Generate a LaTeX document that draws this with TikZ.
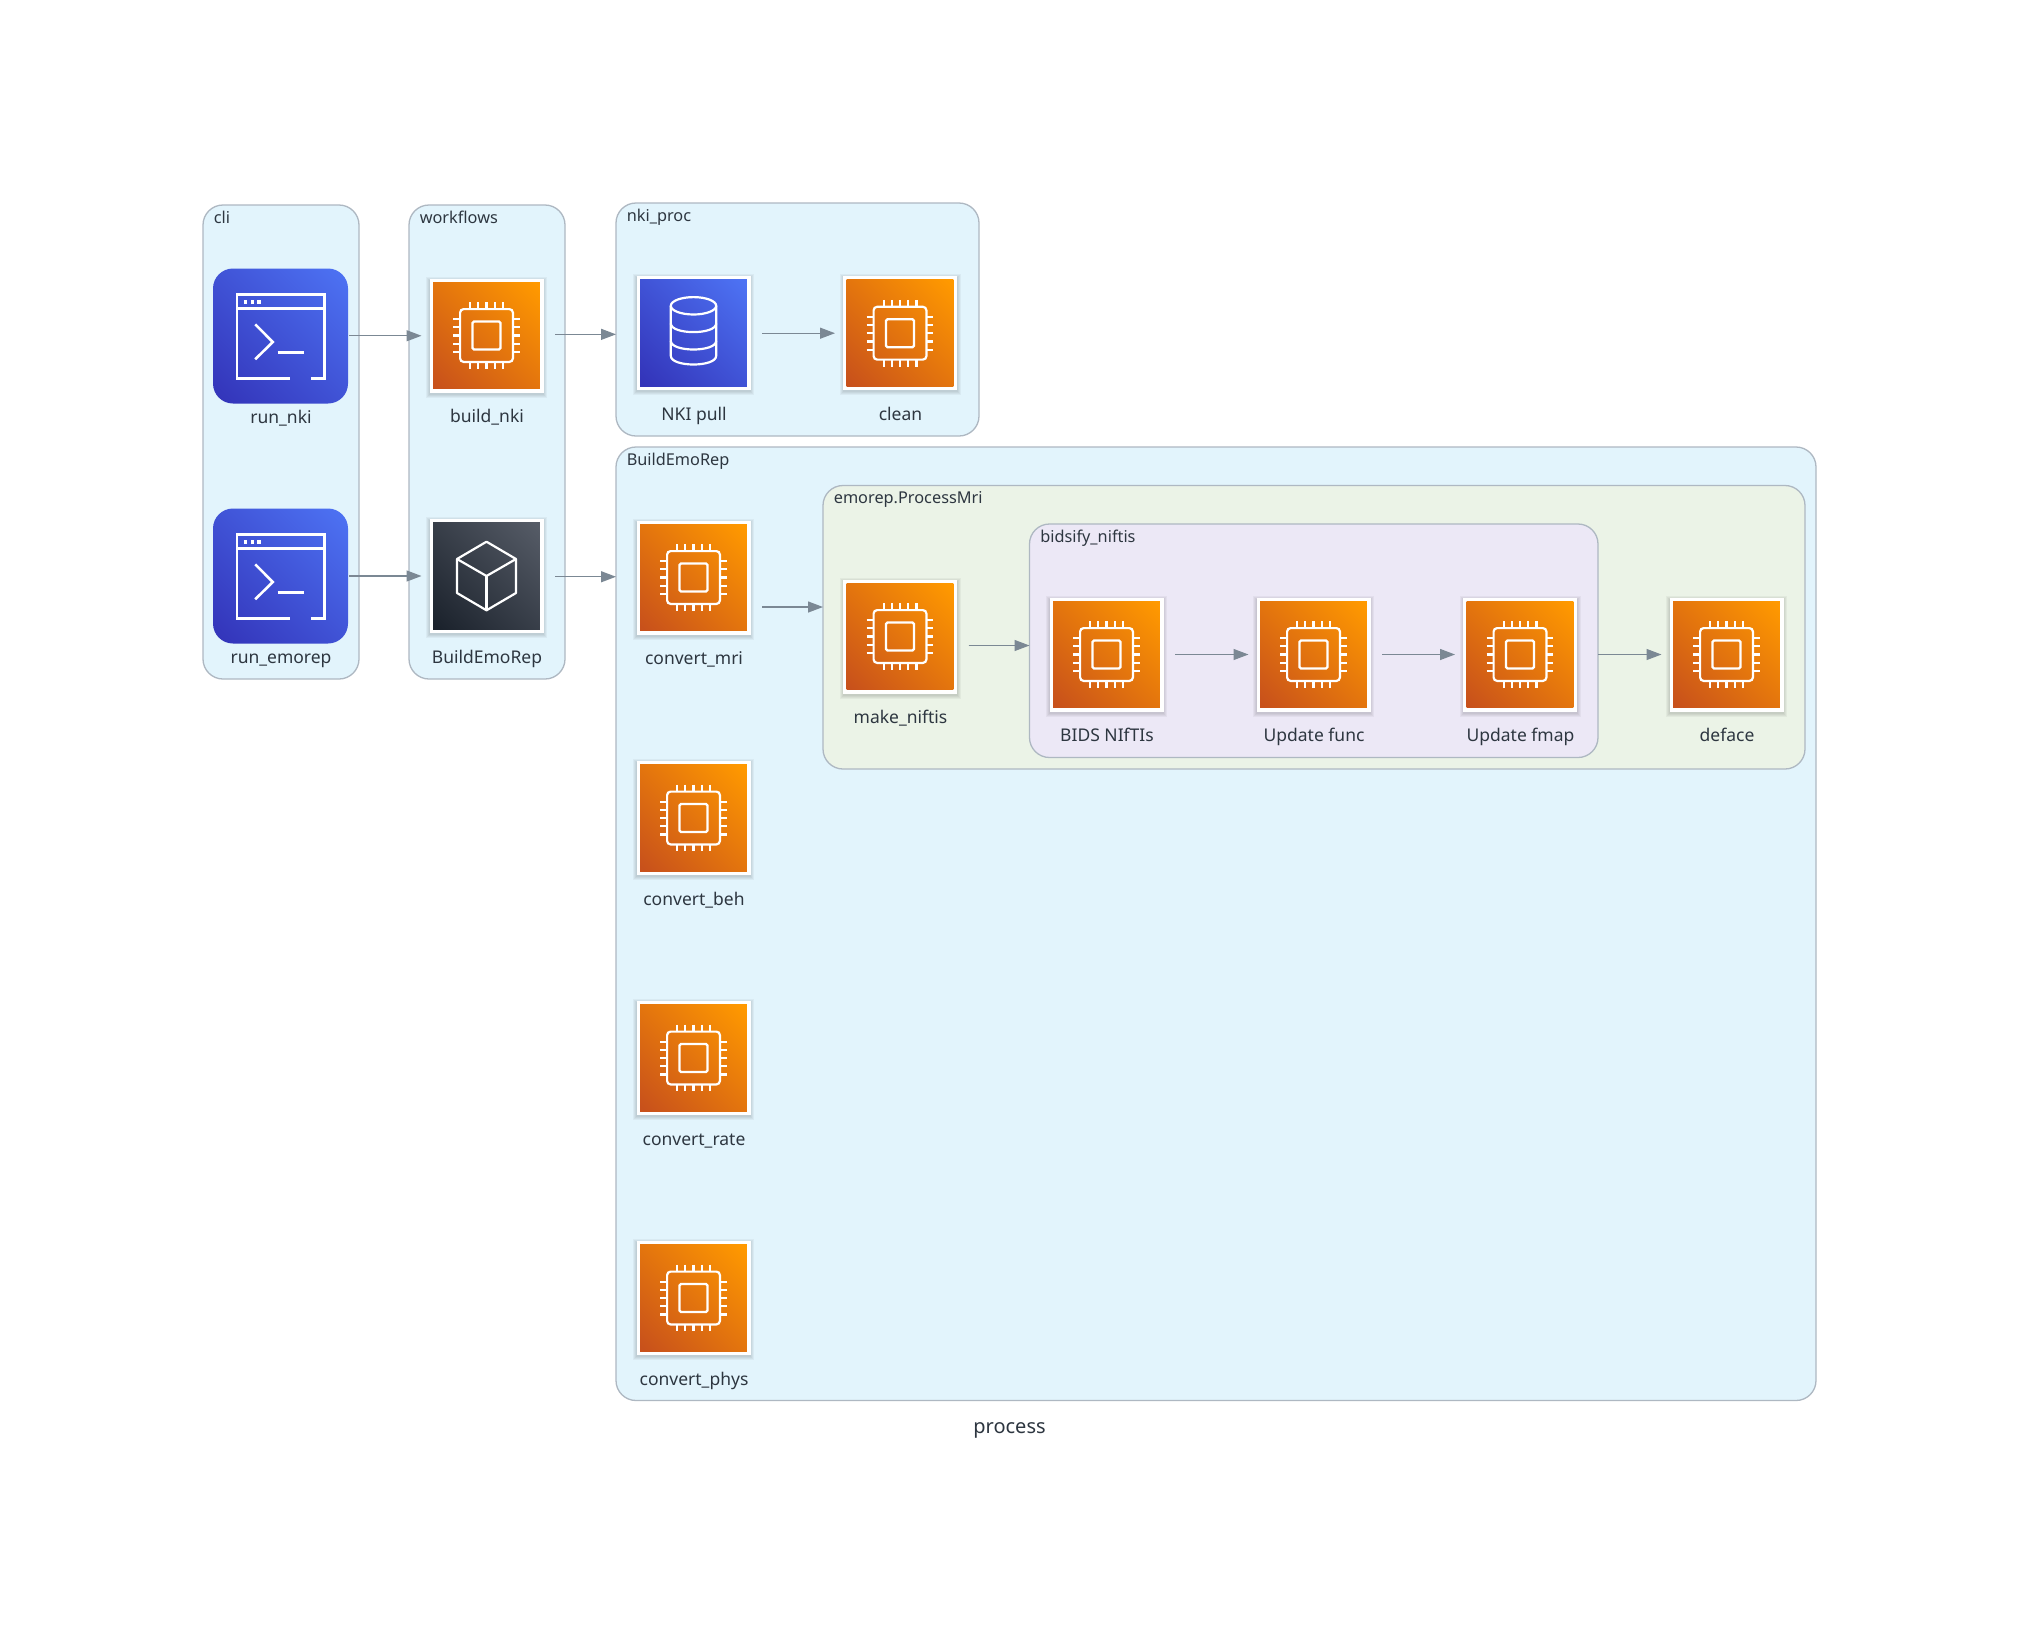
\documentclass[tikz,border=0pt]{standalone}
\usepackage{fontspec}
\setmainfont{Noto Sans}
\usetikzlibrary{arrows.meta,calc,fit}
\definecolor{clusterline}{HTML}{AEB8C2}
\definecolor{clusterblue}{HTML}{E2F4FC}
\definecolor{clustergreen}{HTML}{EBF3E7}
\definecolor{clusterviolet}{HTML}{ECE8F6}
\definecolor{flowgray}{HTML}{7B8894}
\definecolor{textdark}{HTML}{2D3640}
\definecolor{orangetop}{HTML}{FF9900}
\definecolor{orangelow}{HTML}{C8511B}
\definecolor{bluetop}{HTML}{4D72F3}
\definecolor{bluelow}{HTML}{3334B9}
\definecolor{graytop}{HTML}{555B66}
\definecolor{graylow}{HTML}{1B222C}
\newcommand{\tilefill}[2]{
	\begin{scope}
		\clip (-53.4,-53.4) rectangle (53.4,53.4);
		\shade[top color=#1, bottom color=#2, shading angle=-45] (-72,-72) rectangle (72,72);
	\end{scope}
}
\tikzset{
	cluster/.style={draw=clusterline, line width=1.3pt, rounded corners=20pt, inner sep=0pt, outer sep=0pt},
	clustertitle/.style={anchor=base west, inner sep=0pt, text=textdark, font=\fontsize{16.3}{19}\selectfont},
	iconspot/.style={minimum size=130pt, inner sep=0pt, outer sep=0pt},
	caption/.style={anchor=base, inner sep=0pt, text=textdark, font=\fontsize{17.5}{20}\selectfont},
	flow/.style={-{Triangle[length=15pt,width=11pt]}, draw=flowgray, fill=flowgray, line width=1.3pt, shorten <=3.5pt},
	glyph/.style={draw=white, line width=2.2pt},
	% white card with soft shadow
	card/.pic={
		\foreach \r in {3.5,2.5,1.5,0.5} {
			\fill[black, opacity=0.04] (-57-\r,-57-\r+1.5) rectangle (57+\r,57+\r+1.5);
		}
		\fill[white] (-57,-57) rectangle (57,57);
	},
	cpuicon/.pic={
		\pic {card};
		\tilefill{orangetop}{orangelow}
		\draw[glyph, rounded corners=3.5pt] (-26.4,-26.4) rectangle (26.4,26.4);
		\draw[glyph, rounded corners=1.5pt] (-14,-14) rectangle (14,14);
		\foreach \p in {-16.4,-8.2,0,8.2,16.4} {
			\draw[glyph] (\p,-33.4) -- (\p,-26.4);
			\draw[glyph] (\p,26.4) -- (\p,33.4);
			\draw[glyph] (-33.4,\p) -- (-26.4,\p);
			\draw[glyph] (26.4,\p) -- (33.4,\p);
		}
	},
	dbicon/.pic={
		\pic {card};
		\tilefill{bluetop}{bluelow}
		\draw[glyph] (0,-27.4) ellipse [x radius=22.7, y radius=8.7];
		\draw[glyph] (-22.7,-27.4) -- (-22.7,22.6) .. controls (-22.7,34.2) and (22.7,34.2) .. (22.7,22.6) -- (22.7,-27.4);
		\draw[glyph] (-22.7,-9.8) .. controls (-22.7,1.8) and (22.7,1.8) .. (22.7,-9.8);
		\draw[glyph] (-22.7,7.6) .. controls (-22.7,19.2) and (22.7,19.2) .. (22.7,7.6);
	},
	cubeicon/.pic={
		\pic {card};
		\tilefill{graytop}{graylow}
		\draw[glyph, line join=round] (0,-34.3) -- (29.5,-17) -- (29.5,17) -- (0,34.3) -- (-29.5,17) -- (-29.5,-17) -- cycle;
		\draw[glyph, line join=round] (-29.5,-17) -- (0,0) -- (29.5,-17);
		\draw[glyph] (0,0) -- (0,34.3);
	},
	termicon/.pic={
		\begin{scope}
			\clip[rounded corners=20pt] (-67.5,-67.5) rectangle (67.5,67.5);
			\shade[top color=bluetop, bottom color=bluelow, shading angle=-45] (-91,-91) rectangle (91,91);
		\end{scope}
		\draw[glyph, line width=2.6pt] (9.3,42.7) -- (-43.7,42.7) -- (-43.7,-41.7) -- (44,-41.7) -- (44,42.7) -- (30.7,42.7);
		\draw[glyph, line width=2.6pt] (-43.7,-27.3) -- (44,-27.3);
		\draw[glyph, line width=2.6pt] (-25.3,-11.7) -- (-7.7,6) -- (-25.3,23.3);
		\draw[glyph, line width=2.6pt] (-3,16.7) -- (23.7,16.7);
		\foreach \p in {-35,-28.2,-21.4} {
			\fill[white] (\p-1.8,-35.8) rectangle (\p+1.8,-32.2);
		}
	}
}
\newcommand{\iconat}[5]{
	\node[iconspot] (#1) at (#3,#4) {};
	\pic at (#1) {#2};
	\node[caption] (#1-text) at ([xshift=0.5pt,yshift=-87pt]#1.center) {#5};
}
\newcommand{\clusterat}[7]{
	\node[cluster, fill=#7, fit={(#2,#3) (#4,#5)}] (#1) {};
	\node[clustertitle] (#1-title) at (#2+10.6,#3+18) {#6};
}
\begin{document}
\begin{tikzpicture}[x=1pt, y=-1pt]
	\fill[white] (0,0) rectangle (2019,1636);
	\useasboundingbox (0,0) rectangle (2019,1636);

	% clusters
	\clusterat{cli}{203}{205}{359}{679}{cli}{clusterblue}
	\clusterat{workflows}{409}{205}{565}{679}{workflows}{clusterblue}
	\clusterat{nkiproc}{616}{203}{979}{436}{nki\_proc}{clusterblue}
	\clusterat{buildemo}{616}{447}{1816}{1400.5}{BuildEmoRep}{clusterblue}
	\clusterat{processmri}{823}{485.5}{1805}{769}{emorep.ProcessMri}{clustergreen}
	\clusterat{bidsify}{1029.5}{524}{1598}{757.5}{bidsify\_niftis}{clusterviolet}

	% icons
	\iconat{runnki}{termicon}{280.5}{336}{run\_nki}
	\iconat{runemorep}{termicon}{280.5}{576}{run\_emorep}
	\iconat{workflow}{cubeicon}{486.5}{576}{BuildEmoRep}
	\iconat{nkipull}{dbicon}{693.5}{333.2}{NKI pull}
	\foreach \nm/\x/\y/\txt in {buildnki/486.5/335.5/build\_nki, clean/900/333.2/clean,
		convertmri/693.5/577.5/convert\_mri, convertbeh/693.5/818/convert\_beh,
		convertrate/693.5/1058/convert\_rate, convertphys/693.5/1298/convert\_phys,
		makeniftis/900/636.5/make\_niftis, bidsnifti/1106.5/654.5/BIDS NIfTIs,
		updatefunc/1313.5/654.5/Update func, updatefmap/1520/654.5/Update fmap,
		deface/1726.5/654.5/deface} {
		\iconat{\nm}{cpuicon}{\x}{\y}{\txt}
	}

	% connectors, level at the middle of the two icons
	\foreach \a/\b/\stop in {runnki/buildnki/buildnki, runemorep/workflow/workflow,
		buildnki/nkipull/nkiproc, workflow/convertmri/buildemo, nkipull/clean/clean,
		convertmri/makeniftis/processmri, makeniftis/bidsnifti/bidsify,
		bidsnifti/updatefunc/updatefunc, updatefunc/updatefmap/updatefmap} {
		\coordinate (mid) at ($(\a)!0.5!(\b)$);
		\draw[flow] (\a.east |- mid) -- (\stop.west |- mid);
	}
	\draw[flow, shorten <=0pt] (bidsify.east |- updatefmap) -- (deface.west);

	\node[inner sep=0pt, text=textdark, font=\fontsize{20}{24}\selectfont] (process) at (1009.5,1430) {process};
\end{tikzpicture}
\end{document}
